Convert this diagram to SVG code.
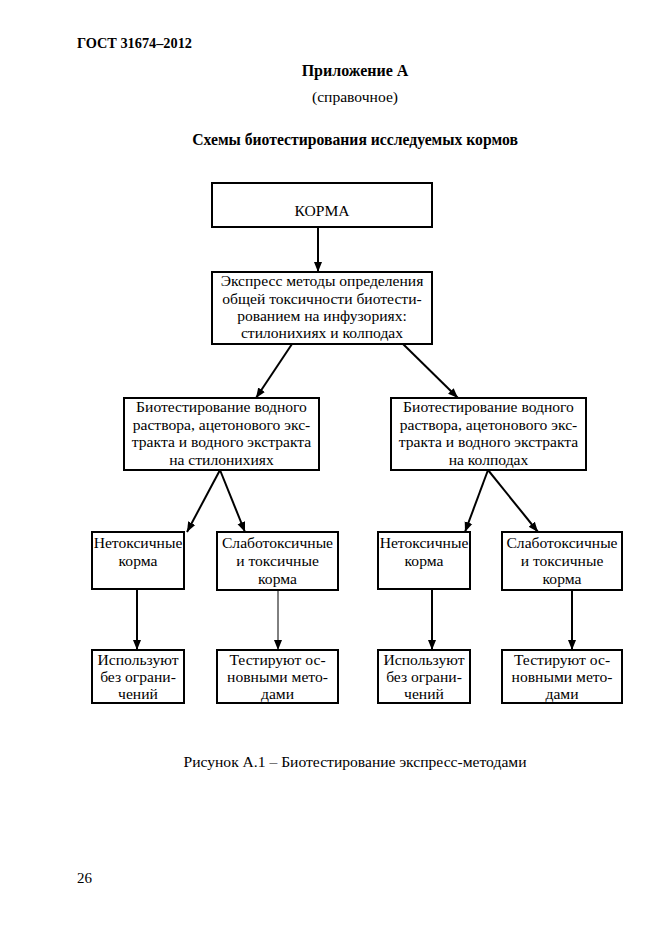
<svg xmlns="http://www.w3.org/2000/svg" width="661" height="936" viewBox="0 0 661 936">
<defs>
<marker id="ah" markerUnits="userSpaceOnUse" markerWidth="10" markerHeight="10" viewBox="0 0 10 10" refX="10" refY="5" orient="auto">
<path d="M0,1 L10,5 L0,9 Z" fill="#000"/>
</marker>
</defs>
<style>
text{font-family:'Liberation Serif','Times New Roman',serif;fill:#000}
.h{font-weight:bold;font-size:14.3px}
.t{font-size:15.6px;text-anchor:middle}
.b{fill:#fff;stroke:#000;stroke-width:2}
.c{stroke:#000;stroke-width:2;fill:none;marker-end:url(#ah)}
.thin{stroke-width:1}
</style>
<rect width="661" height="936" fill="#fff"/>
<g font-family="Liberation Serif, serif">
<text class="h" x="77" y="48">ГОСТ 31674–2012</text>
<text class="h" x="355" y="76" text-anchor="middle" style="font-size:16px">Приложение А</text>
<text class="t" x="355" y="102">(справочное)</text>
<text class="h" x="355" y="145" text-anchor="middle" style="font-size:15.7px">Схемы биотестирования исследуемых кормов</text>

<g id="connectors">
<line class="c" x1="318" y1="227" x2="318" y2="272"/>
<line class="c" x1="292" y1="344" x2="256" y2="398"/>
<line class="c" x1="403" y1="344" x2="458" y2="398"/>
<line class="c" x1="220" y1="470" x2="187" y2="532"/>
<line class="c" x1="220" y1="470" x2="245" y2="532"/>
<line class="c" x1="488" y1="470" x2="465" y2="532"/>
<line class="c" x1="488" y1="470" x2="538" y2="532"/>
<line class="c" x1="137" y1="589" x2="137" y2="650"/>
<line class="c thin" x1="278" y1="590" x2="278" y2="650"/>
<line class="c" x1="432" y1="589" x2="432" y2="650"/>
<line class="c" x1="572" y1="590" x2="572" y2="650"/>
</g>

<g id="n1"><rect class="b" x="212" y="183" width="220" height="44"/>
<text class="t" x="322" y="216">КОРМА</text></g>

<g id="n2"><rect class="b" x="212" y="272" width="220" height="72"/>
<text class="t" x="322" y="286">Экспресс методы определения</text>
<text class="t" x="322" y="303.5">общей токсичности биотести-</text>
<text class="t" x="322" y="321">рованием на инфузориях:</text>
<text class="t" x="322" y="338">стилонихиях и колподах</text></g>

<g id="n3"><rect class="b" x="124" y="398" width="195" height="72"/>
<text class="t" x="221.5" y="412">Биотестирование водного</text>
<text class="t" x="221.5" y="429.5">раствора, ацетонового экс-</text>
<text class="t" x="221.5" y="447">тракта и водного экстракта</text>
<text class="t" x="221.5" y="464.5">на стилонихиях</text></g>

<g id="n4"><rect class="b" x="391" y="398" width="195" height="72"/>
<text class="t" x="488.5" y="412">Биотестирование водного</text>
<text class="t" x="488.5" y="429.5">раствора, ацетонового экс-</text>
<text class="t" x="488.5" y="447">тракта и водного экстракта</text>
<text class="t" x="488.5" y="464.5">на колподах</text></g>

<g id="n5"><rect class="b" x="92" y="532" width="92" height="57"/>
<text class="t" x="138" y="548">Нетоксичные</text>
<text class="t" x="138" y="566">корма</text></g>

<g id="n6"><rect class="b" x="217" y="532" width="121" height="58"/>
<text class="t" x="277.5" y="548">Слаботоксичные</text>
<text class="t" x="277.5" y="566">и токсичные</text>
<text class="t" x="277.5" y="584">корма</text></g>

<g id="n7"><rect class="b" x="378" y="532" width="92" height="57"/>
<text class="t" x="424" y="548">Нетоксичные</text>
<text class="t" x="424" y="566">корма</text></g>

<g id="n8"><rect class="b" x="502" y="532" width="120" height="58"/>
<text class="t" x="562" y="548">Слаботоксичные</text>
<text class="t" x="562" y="566">и токсичные</text>
<text class="t" x="562" y="584">корма</text></g>

<g id="n9"><rect class="b" x="92" y="650" width="92" height="53"/>
<text class="t" x="138" y="665">Используют</text>
<text class="t" x="138" y="682">без ограни-</text>
<text class="t" x="138" y="699">чений</text></g>

<g id="n10"><rect class="b" x="217" y="650" width="121" height="53"/>
<text class="t" x="277.5" y="665">Тестируют ос-</text>
<text class="t" x="277.5" y="682">новными мето-</text>
<text class="t" x="277.5" y="699">дами</text></g>

<g id="n11"><rect class="b" x="378" y="650" width="92" height="53"/>
<text class="t" x="424" y="665">Используют</text>
<text class="t" x="424" y="682">без ограни-</text>
<text class="t" x="424" y="699">чений</text></g>

<g id="n12"><rect class="b" x="502" y="650" width="120" height="53"/>
<text class="t" x="562" y="665">Тестируют ос-</text>
<text class="t" x="562" y="682">новными мето-</text>
<text class="t" x="562" y="699">дами</text></g>

<text class="t" x="355" y="767">Рисунок А.1 – Биотестирование экспресс-методами</text>
<text x="77" y="883" style="font-size:15px">26</text>
</g>
</svg>
